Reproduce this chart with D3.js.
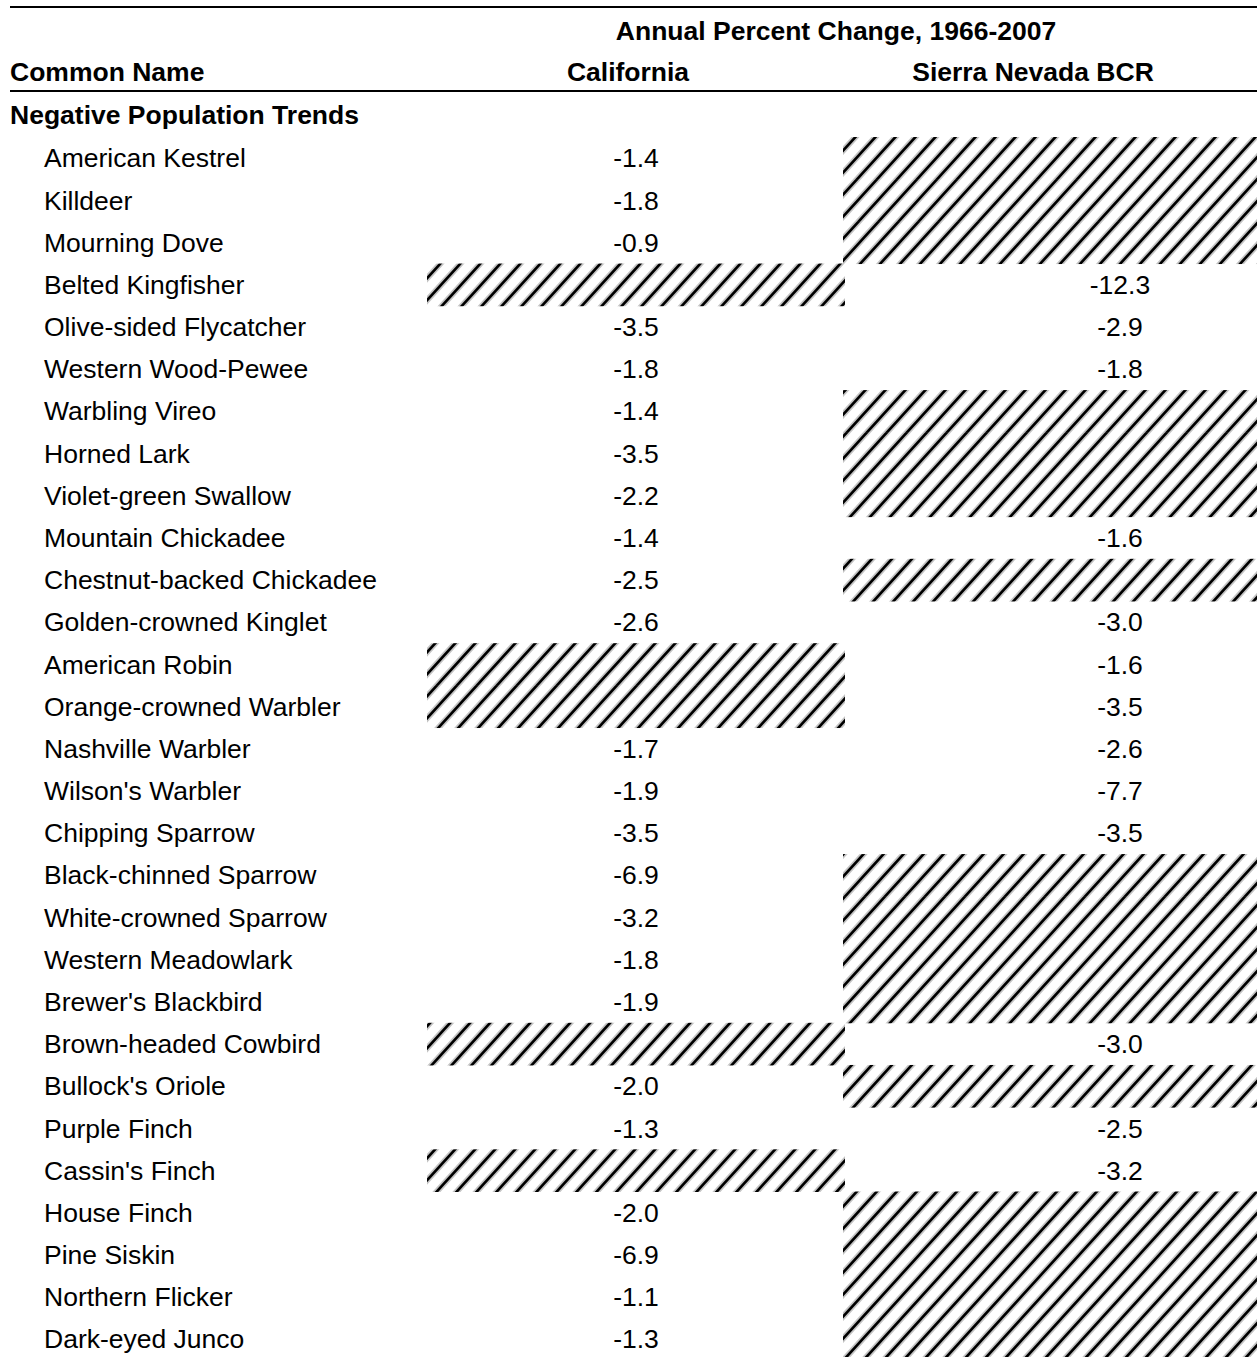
<!DOCTYPE html>
<html>
<head>
<meta charset="utf-8">
<script src="https://cdn.jsdelivr.net/npm/d3@7/dist/d3.min.js"></script>
<style>
  html, body { margin: 0; padding: 0; background: #fff; }
  svg { display: block; }
  text { font-family: "Liberation Sans", Arial, Helvetica, sans-serif; fill: #000; }
</style>
</head>
<body>
<svg id="chart" width="1257" height="1357"></svg>
<script>
// ---- data ----
const title = "Annual Percent Change, 1966-2007";
const columnHeaders = ["Common Name", "California", "Sierra Nevada BCR"];
const sectionLabel = "Negative Population Trends";
const species = [
  "American Kestrel", "Killdeer", "Mourning Dove", "Belted Kingfisher",
  "Olive-sided Flycatcher", "Western Wood-Pewee", "Warbling Vireo", "Horned Lark",
  "Violet-green Swallow", "Mountain Chickadee", "Chestnut-backed Chickadee",
  "Golden-crowned Kinglet", "American Robin", "Orange-crowned Warbler",
  "Nashville Warbler", "Wilson's Warbler", "Chipping Sparrow", "Black-chinned Sparrow",
  "White-crowned Sparrow", "Western Meadowlark", "Brewer's Blackbird",
  "Brown-headed Cowbird", "Bullock's Oriole", "Purple Finch", "Cassin's Finch",
  "House Finch", "Pine Siskin", "Northern Flicker", "Dark-eyed Junco"
];
// null = no estimate (hatched cell)
const california = [
  -1.4, -1.8, -0.9, null, -3.5, -1.8, -1.4, -3.5, -2.2, -1.4, -2.5, -2.6, null, null,
  -1.7, -1.9, -3.5, -6.9, -3.2, -1.8, -1.9, null, -2.0, -1.3, null, -2.0, -6.9, -1.1, -1.3
];
const sierraNevada = [
  null, null, null, -12.3, -2.9, -1.8, null, null, null, -1.6, null, -3.0, -1.6, -3.5,
  -2.6, -7.7, -3.5, null, null, null, null, -3.0, null, -2.5, -3.2, null, null, null, null
];

// ---- drawing ----
const svg = d3.select("#chart");
const FS = 26.5;

const defs = svg.append("defs");
const TW = 20, TH = 22;
const pat = defs.append("pattern")
  .attr("id", "hatch")
  .attr("patternUnits", "userSpaceOnUse")
  .attr("width", TW).attr("height", TH);
const hatchPath = `M0,${TH} L${TW},0 M${-TW * 0.3},${TH * 0.3} L${TW * 0.3},${-TH * 0.3} M${TW * 0.7},${TH * 1.3} L${TW * 1.3},${TH * 0.7}`;
pat.append("rect").attr("width", TW).attr("height", TH).attr("fill", "#fff");
pat.append("path").attr("d", hatchPath)
  .attr("stroke", "#8a8a8a").attr("stroke-width", 6).attr("stroke-opacity", 0.5).attr("fill", "none");
pat.append("path").attr("d", hatchPath)
  .attr("stroke", "#000").attr("stroke-width", 2.6).attr("fill", "none");

// rows
const y = d3.scaleBand().domain(species).range([137, 137 + species.length * 42.18]).padding(0);

// columns
const colKeys = ["california", "sierra"];
const colLeft = d3.scaleOrdinal().domain(colKeys).range([427, 843]);
const colRight = d3.scaleOrdinal().domain(colKeys).range([845, 1257]);
const colCenter = d3.scaleOrdinal().domain(colKeys).range([636, 1120]);
const colData = { california: california, sierra: sierraNevada };

// rules
svg.append("rect").attr("x", 10).attr("y", 6).attr("width", 1247).attr("height", 2).attr("fill", "#000");
svg.append("rect").attr("x", 10).attr("y", 90).attr("width", 1247).attr("height", 2).attr("fill", "#000");

// headers
svg.append("text").attr("x", 836).attr("y", 31).attr("dy", "0.35em")
  .attr("text-anchor", "middle").attr("font-weight", "bold").attr("font-size", FS).text(title);
const headerX = [10, 628, 1033];
const headerAnchor = ["start", "middle", "middle"];
svg.selectAll("text.colhead").data(columnHeaders).join("text")
  .attr("class", "colhead")
  .attr("x", (d, i) => headerX[i]).attr("y", 72).attr("dy", "0.35em")
  .attr("text-anchor", (d, i) => headerAnchor[i])
  .attr("font-weight", "bold").attr("font-size", FS).text(d => d);
svg.append("text").attr("x", 10).attr("y", 115).attr("dy", "0.35em")
  .attr("font-weight", "bold").attr("font-size", FS).text(sectionLabel);

// hatched cells
colKeys.forEach(k => {
  const vals = colData[k];
  svg.append("g").selectAll("rect").data(species.map((s, i) => ({ s, v: vals[i] })).filter(d => d.v === null))
    .join("rect")
    .attr("x", colLeft(k)).attr("width", colRight(k) - colLeft(k))
    .attr("y", d => y(d.s)).attr("height", y.bandwidth() + 0.5)
    .attr("fill", "url(#hatch)");
});

// names
svg.append("g").selectAll("text").data(species).join("text")
  .attr("x", 44).attr("y", d => y(d) + y.bandwidth() / 2).attr("dy", "0.35em")
  .attr("font-size", FS).text(d => d);

// values
colKeys.forEach(k => {
  const vals = colData[k];
  svg.append("g").selectAll("text").data(species.map((s, i) => ({ s, v: vals[i] })).filter(d => d.v !== null))
    .join("text")
    .attr("x", colCenter(k)).attr("y", d => y(d.s) + y.bandwidth() / 2).attr("dy", "0.35em")
    .attr("text-anchor", "middle").attr("font-size", FS)
    .text(d => d.v.toFixed(1));
});
</script>
</body>
</html>
